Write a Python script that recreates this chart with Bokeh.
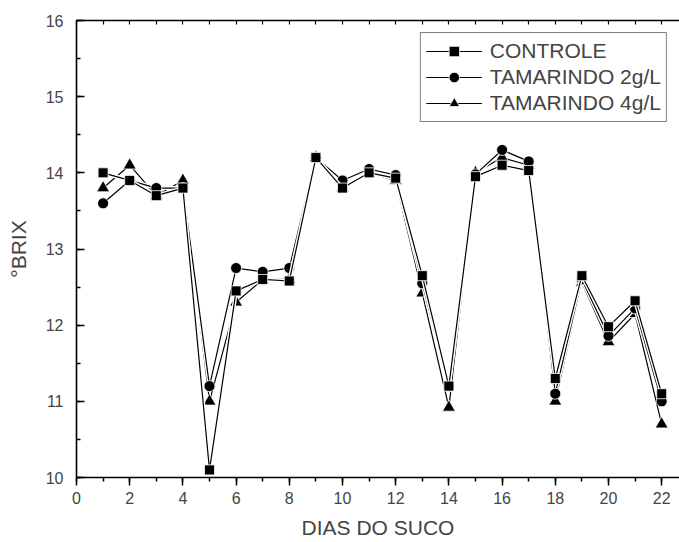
from bokeh.plotting import figure
from bokeh.models import (Range1d, LinearAxis, SingleIntervalTicker, FixedTicker, Legend, LegendItem)
from bokeh.embed import file_html
from bokeh.resources import INLINE

dias = list(range(1, 23))
controle = [14.0, 13.9, 13.7, 13.8, 10.1, 12.45, 12.6, 12.58, 14.2, 13.8, 14.0, 13.93,
            12.65, 11.2, 13.95, 14.1, 14.03, 11.3, 12.65, 11.98, 12.32, 11.1]
tam2 = [13.6, 13.9, 13.8, 13.8, 11.2, 12.75, 12.7, 12.75, 14.2, 13.9, 14.05, 13.97,
        12.55, 11.2, 13.98, 14.3, 14.15, 11.1, 12.6, 11.86, 12.22, 11.0]
tam4 = [13.8, 14.1, 13.7, 13.9, 11.0, 12.3, 12.6, 12.6, 14.2, 13.8, 14.0, 13.9,
        12.42, 10.92, 14.0, 14.2, 14.1, 11.0, 12.56, 11.78, 12.15, 10.7]
labels = ["CONTROLE", "TAMARINDO 2g/L", "TAMARINDO 4g/L"]
top_ticks = list(range(0, 23))

FONT = "Liberation Sans"

p = figure(width=679, height=542, output_backend="svg", toolbar_location=None,
           x_range=Range1d(0, 22.67), y_range=Range1d(10, 16),
           min_border_left=76, min_border_right=0, min_border_top=20, min_border_bottom=65)
p.outline_line_color = None
p.xgrid.visible = False
p.ygrid.visible = False
p.background_fill_color = "white"
p.border_fill_color = "white"

# x axis
xa = p.xaxis[0]
xa.ticker = SingleIntervalTicker(interval=2, num_minor_ticks=2)
xa.axis_label = "DIAS DO SUCO"
xa.axis_label_text_font = FONT
xa.axis_label_text_font_size = "21px"
xa.axis_label_text_font_style = "normal"
xa.axis_label_standoff = 9
xa.major_label_text_font = FONT
xa.major_label_text_font_size = "16px"
xa.major_label_standoff = 6
xa.major_tick_out = 8
xa.major_tick_in = 0
xa.minor_tick_out = 4
xa.minor_tick_in = 0
xa.axis_line_width = 1.6
xa.major_tick_line_width = 1.5
xa.minor_tick_line_width = 1.5

# y axis
ya = p.yaxis[0]
ya.ticker = SingleIntervalTicker(interval=1, num_minor_ticks=2)
ya.axis_label = "°BRIX"
ya.axis_label_text_font = FONT
ya.axis_label_text_font_size = "21px"
ya.axis_label_text_font_style = "normal"
ya.axis_label_standoff = 13
ya.major_label_text_font = FONT
ya.major_label_text_font_size = "16px"
ya.major_label_standoff = 13
ya.major_tick_out = 0
ya.major_tick_in = 8
ya.minor_tick_out = 0
ya.minor_tick_in = 4
ya.axis_line_width = 1.6
ya.major_tick_line_width = 1.5
ya.minor_tick_line_width = 1.5

# top axis: line with small inward ticks, no labels
ta = LinearAxis(ticker=FixedTicker(ticks=[], minor_ticks=top_ticks))
ta.major_tick_out = 0
ta.major_tick_in = 0
ta.minor_tick_out = 0
ta.minor_tick_in = 4
ta.minor_tick_line_width = 1.2
ta.axis_line_width = 1.6
p.add_layout(ta, "above")

series = [(controle, "square", 10), (tam2, "circle", 11), (tam4, "triangle", 13)]
items = {}
for idx in [2, 1, 0]:
    vals, marker, size = series[idx]
    halo = p.line(dias, vals, line_color="white", line_width=4)
    ln = p.line(dias, vals, line_color="black", line_width=1.2)
    mk = p.scatter(dias, vals, marker=marker, size=size, fill_color="black",
                   line_color="white", line_width=0.8)
    items[idx] = LegendItem(label=labels[idx], renderers=[halo, ln, mk])

legend = Legend(items=[items[0], items[1], items[2]], location="top_right")
legend.margin = 12
legend.padding = 5
legend.spacing = 0
legend.glyph_width = 56
legend.glyph_height = 26
legend.label_height = 26
legend.label_standoff = 8
legend.label_text_font = FONT
legend.label_text_font_size = "21px"
legend.border_line_color = "black"
legend.border_line_width = 1.2
legend.background_fill_color = "white"
legend.background_fill_alpha = 1.0
p.add_layout(legend, "center")

open("out.html", "w").write(file_html(p, INLINE))
